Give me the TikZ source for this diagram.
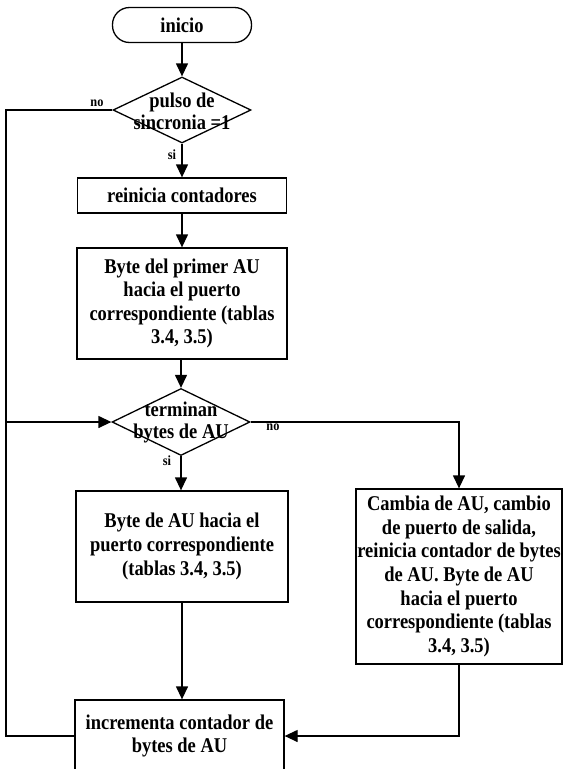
\documentclass[tikz,border=0pt]{standalone}
\usepackage{fontspec}
% narrow, tall serif lettering
\setmainfont{Liberation Serif}[FakeStretch=0.88]
\usetikzlibrary{shapes.geometric,arrows.meta}
\begin{document}
\begin{tikzpicture}[x=1pt,y=-1pt,
  every node/.style={font=\bfseries\fontsize{21}{23.6}\selectfont, align=center, inner sep=0pt},
  startbox/.style={draw, rectangle, rounded corners=17pt, line width=1.3pt,
                   minimum width=139pt, minimum height=35pt},
  procbox/.style={draw, rectangle, line width=1.3pt},
  decision/.style={draw, diamond, line width=1.3pt},
  flow/.style={line width=1.3pt, -{Triangle[length=13pt,width=12pt]}},
  plain/.style={line width=1.3pt},
  branch/.style={font=\bfseries\fontsize{14}{15}\selectfont}
]
\useasboundingbox (0,0) rectangle (564,769);

% blocks
\node[startbox] (start) at (182,25) {inicio};
\node[decision, minimum width=138pt, minimum height=66pt] (pulso) at (182,110) {};
\node[font=\bfseries\fontsize{21}{22}\selectfont] (pulsotxt) at (182,111) {pulso de\\sincronia =1};
\node[procbox, minimum width=209pt, minimum height=35pt] (reinicia) at (182,195.5) {reinicia contadores};
\node[procbox, minimum width=210pt, minimum height=111pt] (primer) at (182,303.5)
  {Byte del primer AU\\hacia el puerto\\correspondiente (tablas\\3.4, 3.5)};
\node[decision, minimum width=138pt, minimum height=67pt] (term) at (181,422) {};
\node[font=\bfseries\fontsize{21}{21.5}\selectfont] (termtxt) at (181,422.5) {terminan\\bytes de AU};
\node[procbox, minimum width=212pt, minimum height=111pt] (byteau) at (182,546.5)
  {Byte de AU hacia el\\puerto correspondiente\\(tablas 3.4, 3.5)};
\node[procbox, minimum width=206pt, minimum height=175pt] (cambia) at (459,576.5)
  {Cambia de AU, cambio\\de puerto de salida,\\reinicia contador de bytes\\de AU. Byte de AU\\hacia el puerto\\correspondiente (tablas\\3.4, 3.5)};
\node[procbox, minimum width=209pt, minimum height=72pt] (incr) at (179.5,736)
  {incrementa contador de\\bytes de AU};

% loop rail on the left
\coordinate (rail) at (6,0);

% connectors
\draw[flow] (start) -- (pulso);
\draw[flow] (pulso) -- (reinicia);
\draw[flow] (reinicia) -- (primer);
\draw[flow] (primer.south -| term.north) -- (term);
\draw[flow] (term) -- (term.south |- byteau.north);
\draw[flow] (term.east) -- (term.east -| cambia.north) -- (cambia.north);
\draw[flow] (byteau.south) -- (byteau.south |- incr.north);
\draw[flow] (cambia.south) -- (cambia.south |- incr.east) -- (incr.east);
\draw[plain] (pulso.west) -- (pulso.west -| rail) -- (incr.west -| rail) -- (incr.west);
\draw[flow] (term.west -| rail) -- (term.west);

% branch labels
\node[branch] (pulsono) at (97,103) {no};
\node[branch] (pulsosi) at (172,155) {si};
\node[branch] (termsi) at (167,461) {si};
\node[branch] (termno) at (273,427) {no};
\end{tikzpicture}
\end{document}
